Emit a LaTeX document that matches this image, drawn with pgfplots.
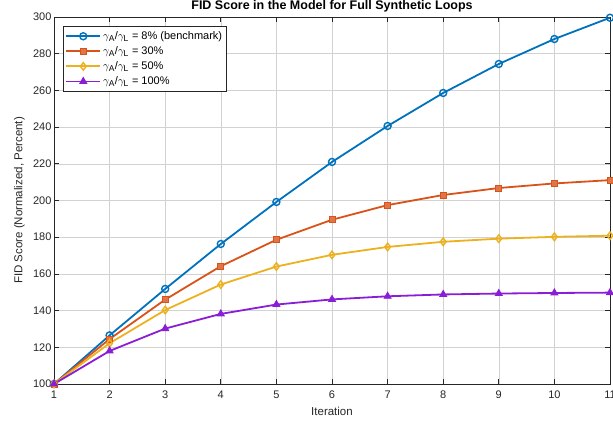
\documentclass[border=0pt]{standalone}
\usepackage{pgfplots}
\pgfplotsset{compat=1.18}
\usepackage{fontspec}
\setmainfont{Liberation Sans}
\definecolor{mblue}{rgb}{0,0.447,0.741}
\definecolor{morange}{rgb}{0.85,0.325,0.098}
\definecolor{myellow}{rgb}{0.929,0.694,0.125}
\definecolor{mpurple}{RGB}{138,30,214}
\definecolor{axgray}{rgb}{0.15,0.15,0.15}
\newcommand{\ratio}{$\gamma_{\mbox{\fontsize{8.5}{9}\selectfont A}}$/$\gamma_{\mbox{\fontsize{8.5}{9}\selectfont L}}$}
\begin{document}
\begin{tikzpicture}
\begin{axis}[
    name=main,
    scale only axis,
    width=556pt, height=367pt,
    xmin=1, xmax=11, ymin=100, ymax=300,
    xtick={1,...,11}, ytick={100,120,...,300},
    grid=major,
    grid style={gray!35, line width=0.5pt},
    axis line style={axgray, line width=0.7pt},
    tick style={axgray, line width=0.7pt},
    tick align=inside,
    major tick length=5pt,
    ticklabel style={font=\fontsize{11}{12}\selectfont, text=axgray},
    xticklabel style={yshift=-3.5pt},
    yticklabel style={xshift=1pt},
    /pgf/number format/assume math mode=true,
    xlabel={Iteration}, ylabel={FID Score (Normalized, Percent)},
    label style={font=\fontsize{11.5}{12}\selectfont, text=axgray},
    xlabel style={yshift=-1pt},
    ylabel style={yshift=1.5pt},
    title={\textbf{FID Score in the Model for Full Synthetic Loops}},
    title style={font=\fontsize{12.5}{13}\selectfont, yshift=-5pt},
    legend style={font=\fontsize{11}{12}\selectfont, draw=axgray, line width=0.7pt,
        at={(0.0162,0.975)}, anchor=north west, inner xsep=2pt, inner ysep=3pt,
        row sep=1.6pt},
    legend cell align=left,
    legend image code/.code={%
        \draw[mark repeat=2,mark phase=2] plot coordinates {(0pt,0pt) (17pt,0pt) (34pt,0pt)};},
    every axis plot/.append style={line width=1.8pt},
]
\addplot[mblue, mark=o, mark size=3.5pt, mark options={line width=1.4pt}] coordinates {
    (1,100) (2,126.5) (3,151.8) (4,176.3) (5,199.2) (6,221.0)
    (7,240.6) (8,258.6) (9,274.4) (10,288.0) (11,299.6)
};
\addlegendentry{\ratio{} = 8\% (benchmark)\hspace{14pt}}
\addplot[morange, mark=square*, mark size=3pt, mark options={line width=0.9pt, fill=morange!80}] coordinates {
    (1,100) (2,124.5) (3,146.0) (4,164.2) (5,178.6) (6,189.5)
    (7,197.5) (8,203.0) (9,206.8) (10,209.3) (11,211.1)
};
\addlegendentry{\ratio{} = 30\%}
\addplot[myellow, mark=diamond, mark size=3.8pt, mark options={line width=1.4pt}] coordinates {
    (1,100) (2,122.2) (3,140.3) (4,154.2) (5,164.0) (6,170.4)
    (7,174.7) (8,177.5) (9,179.2) (10,180.2) (11,180.8)
};
\addlegendentry{\ratio{} = 50\%}
\addplot[mpurple, mark=triangle*, mark size=4pt, mark options={line width=0.9pt}] coordinates {
    (1,100) (2,118.0) (3,130.2) (4,138.2) (5,143.3) (6,146.1)
    (7,147.8) (8,148.8) (9,149.3) (10,149.6) (11,149.8)
};
\addlegendentry{\ratio{} = 100\%}
\end{axis}
\pgfresetboundingbox
\useasboundingbox ([xshift=-54pt,yshift=-39pt]main.south west) rectangle ([xshift=3pt,yshift=17pt]main.north east);
\end{tikzpicture}
\end{document}
